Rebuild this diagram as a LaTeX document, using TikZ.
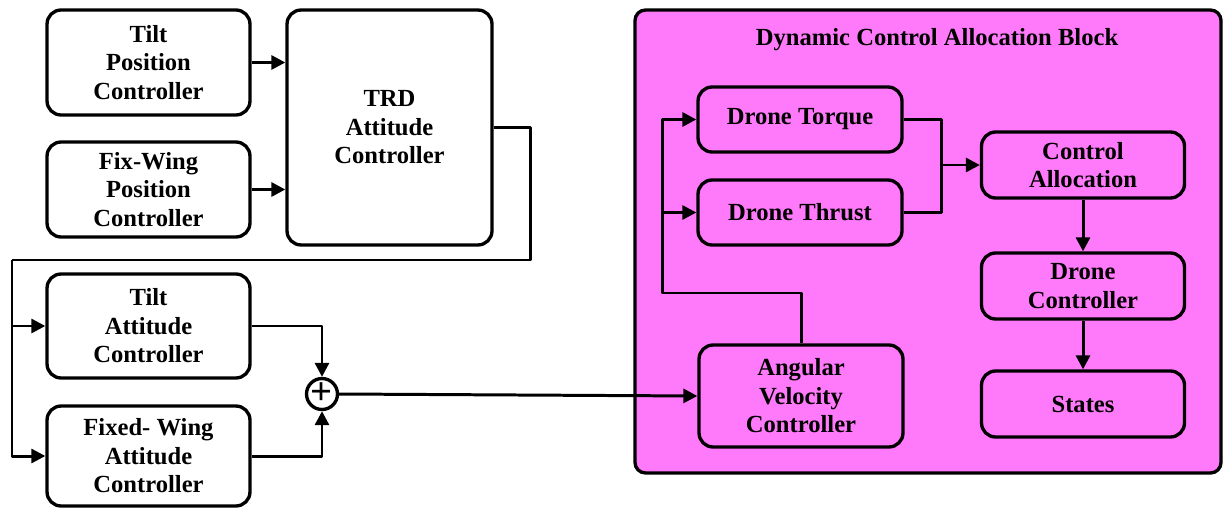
\documentclass[tikz,border=0pt]{standalone}
\usepackage{fontspec}
\setmainfont{Liberation Serif}
\usetikzlibrary{arrows.meta}
\definecolor{blockpink}{RGB}{255,122,250}
\tikzset{
  ctrl/.style={draw,line width=1.9pt,rounded corners=8pt,align=center,
    font=\fontsize{14}{16.2}\selectfont\bfseries,inner sep=2pt},
  wire/.style={line width=1.7pt},
  feed/.style={wire,-{Triangle[length=8pt,width=8pt]}}
}
\begin{document}
\begin{tikzpicture}[x=0.02cm,y=-0.02cm,line join=round]
    \useasboundingbox (0,0) rectangle (1223,507);

    \draw[fill=blockpink,line width=1.9pt,rounded corners=6pt] (635,10) rectangle (1221,473);
    \node[font=\fontsize{14}{16.2}\selectfont\bfseries] (title) at (937,40) {Dynamic Control Allocation Block};

    \node[ctrl,minimum width=4.06cm,minimum height=2.1cm] (tpc) at (148.5,62.5) {Tilt\\Position\\Controller};
    \node[ctrl,minimum width=4.06cm,minimum height=1.9cm] (fpc) at (148.5,189.5) {Fix-Wing\\Position\\Controller};
    \node[ctrl,minimum width=4.1cm,minimum height=4.7cm] (trd) at (389.5,127.5) {TRD\\Attitude\\Controller};
    \node[ctrl,minimum width=4.06cm,minimum height=2.08cm] (tac) at (148.5,326) {Tilt\\Attitude\\Controller};
    \node[ctrl,minimum width=4.06cm,minimum height=2.0cm] (fac) at (148.5,456) {Fixed- Wing\\Attitude\\Controller};
    \node[draw,circle,line width=1.9pt,minimum size=0.6cm,inner sep=0pt,
      font=\fontsize{22}{22}\selectfont\bfseries] (sum) at (322,394) {+};

    \node[ctrl,minimum width=4.08cm,minimum height=1.3cm] (dtq) at (800,119.5) {Drone Torque};
    \node[ctrl,minimum width=4.08cm,minimum height=1.3cm] (dth) at (800,212.5) {Drone Thrust};
    \node[ctrl,minimum width=4.08cm,minimum height=2.04cm] (avc) at (801,396) {Angular\\Velocity\\Controller};
    \node[ctrl,minimum width=4.06cm,minimum height=1.32cm] (cal) at (1083,165) {Control\\Allocation};
    \node[ctrl,minimum width=4.06cm,minimum height=1.32cm] (dco) at (1083,286) {Drone\\Controller};
    \node[ctrl,minimum width=4.06cm,minimum height=1.32cm] (sts) at (1083,404) {States};

    \coordinate (tr) at (530,127.5);
    \coordinate (fb) at (12,260);
    \coordinate (up) at (662,293);
    \coordinate (mg) at (941,165);

    \draw[feed] (tpc.east) -- (tpc.east -| trd.west);
    \draw[feed] (fpc.east) -- (fpc.east -| trd.west);
    \draw[wire] (trd.east) -- (tr) |- (fb);
    \draw[feed] (fb) |- (fac.west);
    \draw[feed] (tac.west -| fb) -- (tac.west);
    \draw[feed] (tac.east) -| (sum.north);
    \draw[feed] (fac.east) -| (sum.south);
    \draw[feed] (sum.east) -- (avc.west);

    \draw[feed] (avc.north) |- (up) |- (dtq.west);
    \draw[feed] (dth.west -| up) -- (dth.west);
    \draw[wire] (dtq.east) -| (mg) |- (dth.east);
    \draw[feed] (mg) -- (cal.west);
    \draw[feed] (cal.south) -- (dco.north);
    \draw[feed] (dco.south) -- (sts.north);
\end{tikzpicture}
\end{document}
